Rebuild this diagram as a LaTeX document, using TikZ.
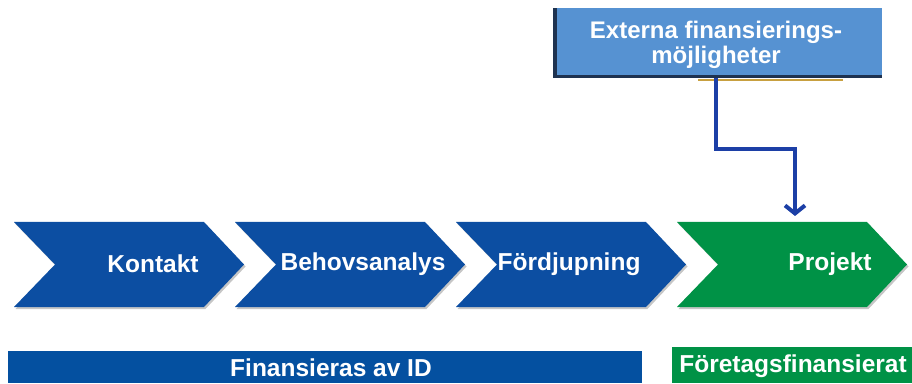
\documentclass[tikz,border=0pt]{standalone}
\usepackage{fontspec}
\setmainfont{Liberation Sans}
\usetikzlibrary{arrows.meta,shadows}
\definecolor{chevblue}{RGB}{12,78,162}
\definecolor{chevgreen}{RGB}{0,146,70}
\definecolor{boxblue}{RGB}{86,146,210}
\definecolor{boxshadow}{RGB}{30,50,80}
\definecolor{arrowblue}{RGB}{28,63,166}
\definecolor{goldline}{RGB}{200,160,64}
\definecolor{barblue}{RGB}{4,80,160}
\begin{document}
\begin{tikzpicture}[x=1pt,y=1pt,
  chev/.style={drop shadow={shadow xshift=1.5pt,shadow yshift=-2pt,opacity=0.45}},
  chevtext/.style={text=white,font=\fontsize{24.5}{26}\selectfont\bfseries,inner sep=0pt},
  bartext/.style={text=white,font=\fontsize{24.5}{26}\selectfont\bfseries,inner sep=0pt},
  boxtext/.style={text=white,font=\fontsize{24}{25}\selectfont\bfseries,align=center,inner sep=0pt},
  flow/.style={draw=arrowblue,line width=4pt,-{Straight Barb[length=8pt,width=20pt,line width=4pt]}}
]
\useasboundingbox (0,0) rectangle (912,383);
% chevrons
\foreach \L/\c in {14/chevblue,235/chevblue,456/chevblue,677/chevgreen}{
  \fill[\c,chev] (\L,161) -- ({\L+190},161) -- ({\L+230},118.5) -- ({\L+190},76) -- (\L,76) -- ({\L+41},118.5) -- cycle;
}
\node[chevtext] (kontakt) at (153,119) {Kontakt};
\node[chevtext] (behov) at (363,119) {Behovsanalys};
\node[chevtext] (fordj) at (569,119) {Fördjupning};
\node[chevtext] (projekt) at (830,119) {Projekt};
\coordinate (projtop) at (795,167);
% top box
\fill[boxshadow] (553,305) rectangle (882,375);
\fill[boxblue] (557,308) rectangle (882,375);
\fill[goldline] (698,301.5) rectangle (843,304);
\node[boxtext] (ext) at (716,338) {Externa finansierings-\\möjligheter};
\coordinate (extout) at (716,305);
\coordinate (bend1) at (716,234);
\coordinate (bend2) at (795,234);
\draw[flow] (extout) -- (bend1) -- (bend2) -- (projtop);
% bottom bars
\fill[barblue] (8,0) rectangle (642,32);
\node[bartext] (finid) at (331,15) {Finansieras av ID};
\fill[chevgreen] (672,0) rectangle (912,36);
\node[bartext] (foretag) at (793,17) {Företagsfinansierat};
\end{tikzpicture}
\end{document}
